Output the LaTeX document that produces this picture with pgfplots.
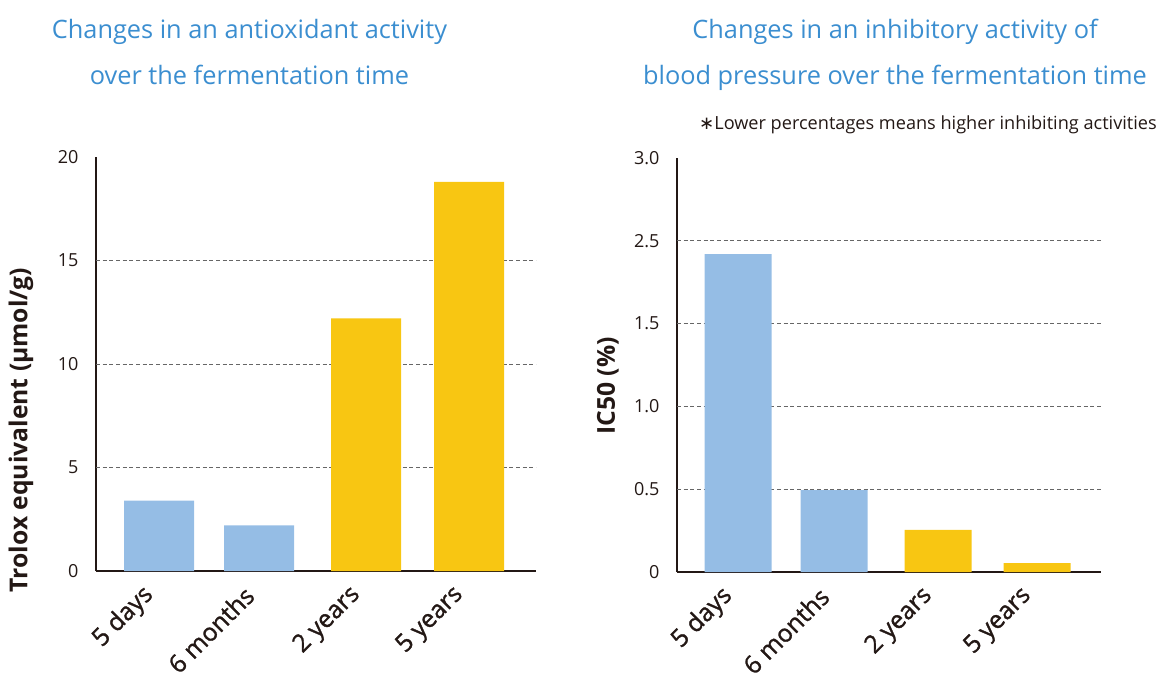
\documentclass[border=0pt]{standalone}
\usepackage{fontspec}
\setmainfont{Open Sans}
\newfontfamily\dejavu{DejaVu Sans}
\newfontfamily\medium[FakeBold=1.2]{Open Sans}
\usepackage{pgfplots}
\pgfplotsset{compat=1.18}
\definecolor{barblue}{HTML}{95BDE5}
\definecolor{baryellow}{HTML}{F8C612}
\definecolor{titleblue}{HTML}{3B8ED0}
\definecolor{ink}{HTML}{231815}
\definecolor{gridgray}{HTML}{666666}
\pgfplotsset{
  mychart/.style={
    scale only axis,
    axis lines*=left,
    axis line style={ink, line width=1pt},
    major tick length=0pt,
    ymin=0, xmin=0,
    ybar, bar shift=0pt,
    tick label style={font=\fontsize{13.5}{16}\selectfont, text=ink},
    /pgf/number format/assume math mode=true,
    yticklabel style={anchor=east, inner sep=0pt, xshift=-13pt},
    xticklabel style={font=\medium\fontsize{18.5}{20}\selectfont, xshift=-7pt, yshift=-15pt, rotate=45, anchor=east, inner sep=0pt},
    extra y tick labels={},
    extra y tick style={grid=major, major grid style={gridgray, line width=0.6pt, dash pattern=on 3pt off 2pt}},
    every axis plot/.append style={draw=none},
  }
}
\begin{document}
\begin{tikzpicture}
\path[use as bounding box] (0,0) rectangle (870pt,509.25pt);
% Left chart
\begin{axis}[mychart,
  at={(72pt,81pt)}, anchor=south west,
  width=330pt, height=310.5pt,
  xmax=440, ymax=20,
  ytick={0,5,10,15,20},
  extra y ticks={5,10,15},
  xtick={63,163,270,373},
  xticklabels={5 days,6 months,2 years,5 years},
  bar width=52.5pt]
\addplot[fill=barblue] coordinates {(63,3.4) (163,2.2)};
\addplot[fill=baryellow] coordinates {(270,12.2) (373,18.8)};
\end{axis}
% Right chart
\begin{axis}[mychart,
  at={(507.75pt,80.25pt)}, anchor=south west,
  width=318pt, height=310.5pt,
  xmax=424, ymax=2.5,
  ytick={0,0.5,1,1.5,2,2.5},
  yticklabels={0,0.5,1.0,1.5,2.5,3.0},
  extra y ticks={0.5,1,1.5,2},
  xtick={61,157,261,360},
  xticklabels={5 days,6 months,2 years,5 years},
  bar width=50.25pt]
\addplot[fill=barblue] coordinates {(61,1.92) (157,0.495)};
\addplot[fill=baryellow] coordinates {(261,0.254) (360,0.054)};
\end{axis}
% Titles
\begin{scope}[every node/.style={font=\fontsize{19}{22}\selectfont, text=titleblue, anchor=base, inner sep=0pt}]
\node at (187.1pt,480pt) {Changes in an antioxidant activity};
\node at (187.1pt,445.5pt) {over the fermentation time};
\node at (671.25pt,480pt) {Changes in an inhibitory activity of};
\node at (671.25pt,445.5pt) {blood pressure over the fermentation time};
\end{scope}
\node[anchor=base east, inner sep=0pt, font=\fontsize{13.6}{15}\selectfont, text=ink] at (867.75pt,411.75pt) {{\dejavu ∗}Lower percentages means higher inhibiting activities};
% Y labels
\node[rotate=90, inner sep=0pt, font=\bfseries\fontsize{18.5}{20}\selectfont, text=ink] at (15.75pt,186.75pt) {Trolox equivalent (µmol/g)};
\node[rotate=90, inner sep=0pt, font=\bfseries\fontsize{18.5}{20}\selectfont, text=ink] at (456pt,219.75pt) {IC50 (\%)};
\end{tikzpicture}
\end{document}
